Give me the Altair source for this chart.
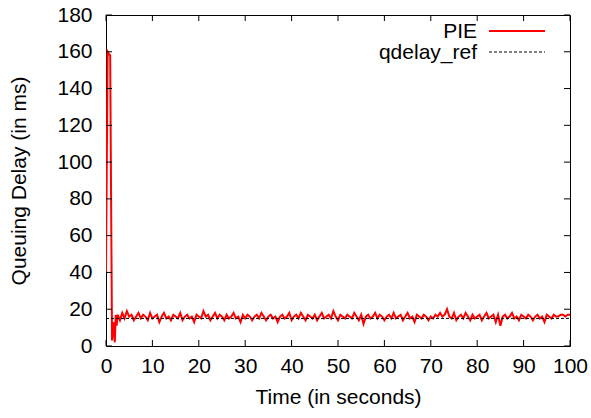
import altair as alt
import pandas as pd

# --- data ---
start_t = [0, 0.35, 0.6, 0.9, 1.3, 1.6, 1.9, 2.1, 2.3]
start_v = [40, 160, 159, 158, 3, 13, 2, 17, 11]

noise_v = [
    17, 14, 18, 15, 19, 16, 17, 14, 16, 18,
    15, 17, 16, 14, 18, 15, 16, 17, 13, 16,
    18, 15, 16, 14, 17, 16, 15, 18, 14, 16,
    17, 15, 16, 13, 17, 16, 15, 19, 16, 17,
    14, 16, 18, 15, 17, 16, 14, 17, 15, 16,
    18, 15, 16, 13, 17, 15, 17, 16, 14, 16,
    17, 15, 18, 16, 14, 16, 17, 15, 16, 13,
    16, 17, 15, 16, 18, 14, 16, 17, 15, 18,
    16, 14, 17, 16, 15, 17, 14, 16, 18, 15,
    16, 17, 15, 19, 16, 14, 17, 16, 15, 17,
    16, 15, 18, 16, 14, 17, 12, 16, 17, 15,
    16, 18, 15, 17, 16, 14, 16, 17, 15, 18,
    15, 16, 17, 14, 16, 18, 15, 16, 13, 17,
    16, 15, 17, 16, 14, 16, 15, 17, 16, 18,
    16, 17, 20, 16, 15, 18, 14, 16, 17, 15,
    18, 16, 14, 17, 15, 16, 17, 14, 16, 18,
    15, 16, 17, 13, 17, 11, 16, 17, 15, 16,
    18, 15, 16, 14, 17, 16, 15, 17, 16, 14,
    16, 17, 15, 16, 13, 17, 16, 15, 17, 16,
    16, 17, 17, 16, 17, 17,
]
noise_t = [2.5 + 0.5 * i for i in range(len(noise_v))]

qdelay_ref = 15
x_ticks = [0, 10, 20, 30, 40, 50, 60, 70, 80, 90, 100]
y_ticks = [0, 20, 40, 60, 80, 100, 120, 140, 160, 180]

W, H = 464, 331
FONT = "Liberation Sans"
FS = 21

pie = pd.DataFrame({"t": start_t + noise_t, "v": start_v + noise_v})
xt = pd.DataFrame({"t": x_ticks})
yt = pd.DataFrame({"v": y_ticks})
rf = pd.DataFrame({"v": [qdelay_ref]})

xs = alt.Scale(domain=[0, 100], nice=False)
ys = alt.Scale(domain=[0, 180], nice=False)

xaxis = alt.Axis(values=x_ticks, title="Time (in seconds)", labelPadding=9, titlePadding=10)
yaxis = alt.Axis(values=y_ticks, title="Queuing Delay (in ms)", labelPadding=14, titlePadding=27)

X = alt.X("t:Q", scale=xs, axis=xaxis)
Y = alt.Y("v:Q", scale=ys, axis=yaxis)

line = alt.Chart(pie).mark_line(color="#ff0000", strokeWidth=2, clip=True).encode(x=X, y=Y)

ref = alt.Chart(rf).mark_rule(color="#000", strokeWidth=1, strokeDash=[3, 2]).encode(
    y=Y, x=alt.value(0), x2=alt.value(W))

tb = alt.Chart(xt).mark_rule(color="#000").encode(x=X, y=alt.value(H), y2=alt.value(H - 6))
tt = alt.Chart(xt).mark_rule(color="#000").encode(x=X, y=alt.value(0), y2=alt.value(6))
tl = alt.Chart(yt).mark_rule(color="#000").encode(y=Y, x=alt.value(0), x2=alt.value(6))
tr = alt.Chart(yt).mark_rule(color="#000").encode(y=Y, x=alt.value(W), x2=alt.value(W - 6))

leg_names = pd.DataFrame({"name": ["PIE"]})
leg_names2 = pd.DataFrame({"name": ["qdelay_ref"]})
lt1 = alt.Chart(leg_names).mark_text(align="right", baseline="middle", fontSize=FS,
                                     font=FONT, color="#000").encode(
    text="name:N", x=alt.value(371), y=alt.value(17))
lt2 = alt.Chart(leg_names2).mark_text(align="right", baseline="middle", fontSize=FS,
                                      font=FONT, color="#000").encode(
    text="name:N", x=alt.value(371), y=alt.value(38))
ll1 = alt.Chart(leg_names).mark_rule(color="#ff0000", strokeWidth=2).encode(
    x=alt.value(383), x2=alt.value(439), y=alt.value(16))
ll2 = alt.Chart(leg_names2).mark_rule(color="#000", strokeWidth=1, strokeDash=[3, 2]).encode(
    x=alt.value(383), x2=alt.value(439), y=alt.value(37))

chart = alt.layer(line, ref, tb, tt, tl, tr, lt1, lt2, ll1, ll2).properties(
    width=W, height=H,
    autosize=alt.AutoSizeParams(type="none"),
    padding={"left": 106, "top": 15, "right": 21, "bottom": 72},
    background="white",
).configure_view(stroke="#000", strokeWidth=1).configure_axis(
    ticks=False, domain=False, grid=False, labelOverlap=False, labelFlush=False,
    labelFontSize=FS, titleFontSize=FS, labelFont=FONT, titleFont=FONT,
    titleFontWeight="normal", labelColor="#000", titleColor="#000",
)

chart.save("out.html", embed_options={"renderer": "svg", "actions": False})
